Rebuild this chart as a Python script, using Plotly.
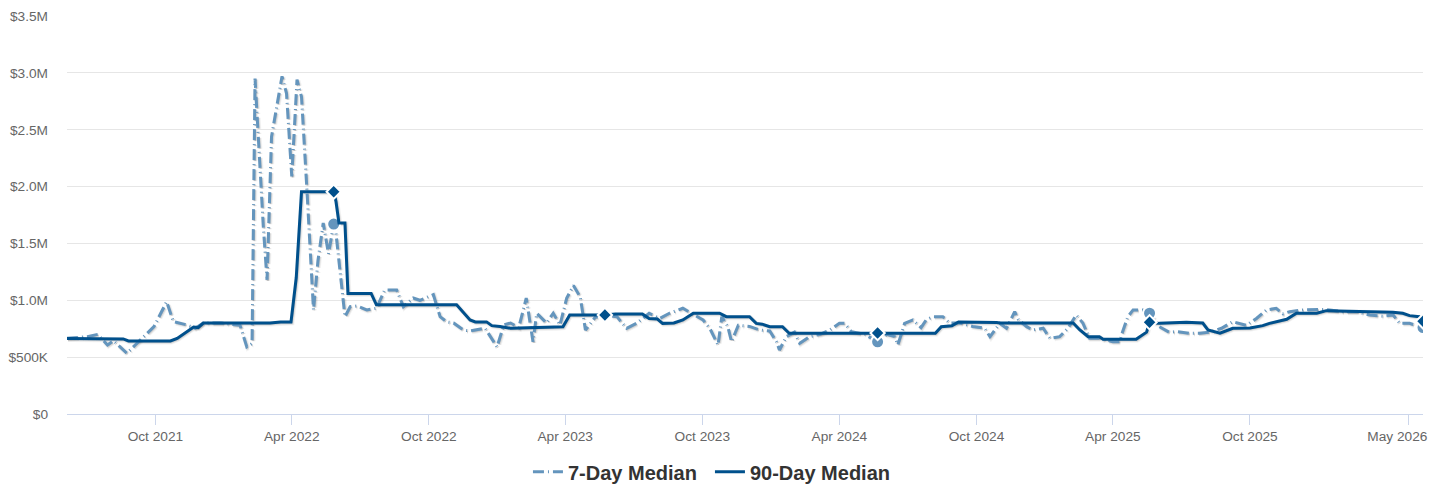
import plotly.graph_objects as go
import pandas as pd

# ---------------- data ----------------
SEVEN_DATES = [
    "2021-06-05", "2021-07-02", "2021-07-16", "2021-07-29", "2021-08-06", "2021-08-24",
    "2021-09-04", "2021-09-18", "2021-09-29", "2021-10-16", "2021-10-25", "2021-11-12",
    "2021-11-23", "2021-12-04", "2021-12-27", "2022-01-22", "2022-01-31", "2022-02-07",
    "2022-02-11", "2022-02-22", "2022-02-27", "2022-03-05", "2022-03-19", "2022-03-25",
    "2022-04-01", "2022-04-08", "2022-04-14", "2022-04-21", "2022-04-30", "2022-05-06",
    "2022-05-13", "2022-05-20", "2022-05-27", "2022-05-30", "2022-06-11", "2022-06-18",
    "2022-06-27", "2022-07-10", "2022-07-23", "2022-08-03", "2022-08-19", "2022-08-28",
    "2022-09-10", "2022-09-19", "2022-10-07", "2022-10-16", "2022-10-25", "2022-11-03",
    "2022-11-16", "2022-11-25", "2022-12-06", "2022-12-15", "2022-12-31", "2023-01-09",
    "2023-01-18", "2023-01-29", "2023-02-08", "2023-02-17", "2023-02-22", "2023-03-07",
    "2023-03-16", "2023-03-25", "2023-04-03", "2023-04-12", "2023-04-21", "2023-04-28",
    "2023-05-11", "2023-05-24", "2023-06-09", "2023-06-22", "2023-07-05", "2023-07-22",
    "2023-08-05", "2023-08-18", "2023-09-05", "2023-09-19", "2023-10-02", "2023-10-11",
    "2023-10-22", "2023-10-27", "2023-11-04", "2023-11-09", "2023-11-18", "2023-12-03",
    "2023-12-17", "2023-12-30", "2024-01-08", "2024-01-12", "2024-01-21", "2024-02-01",
    "2024-02-08", "2024-02-21", "2024-03-06", "2024-03-19", "2024-04-01", "2024-04-08",
    "2024-04-17", "2024-05-05", "2024-05-22", "2024-06-03", "2024-06-14", "2024-06-18",
    "2024-06-27", "2024-07-08", "2024-07-19", "2024-07-26", "2024-08-04", "2024-08-17",
    "2024-08-26", "2024-09-09", "2024-09-26", "2024-10-12", "2024-10-19", "2024-11-01",
    "2024-11-10", "2024-11-21", "2024-11-26", "2024-12-07", "2024-12-15", "2024-12-29",
    "2025-01-07", "2025-01-20", "2025-01-31", "2025-02-11", "2025-02-20", "2025-03-01",
    "2025-03-14", "2025-04-01", "2025-04-10", "2025-04-14", "2025-04-21", "2025-04-28",
    "2025-05-11", "2025-05-20", "2025-06-02", "2025-06-15", "2025-06-26", "2025-07-12",
    "2025-07-26", "2025-08-08", "2025-08-24", "2025-09-08", "2025-09-26", "2025-10-10",
    "2025-10-23", "2025-11-05", "2025-11-14", "2025-11-23", "2025-12-11", "2026-01-02",
    "2026-01-15", "2026-02-02", "2026-02-20", "2026-03-10", "2026-03-28", "2026-04-10",
    "2026-04-19", "2026-05-02", "2026-05-20",
]
SEVEN_VALUES = [
    665000, 680000, 700000, 607000, 645000, 534000,
    607000, 695000, 768000, 988000, 812000, 783000,
    754000, 800000, 800000, 780000, 590000, 620000,
    2950000, 1650000, 1180000, 2440000, 2970000, 2820000,
    2090000, 2940000, 2790000, 2000000, 915000, 1350000,
    1680000, 1410000, 1670000, 1590000, 856000, 944000,
    950000, 915000, 930000, 1090000, 1090000, 944000,
    1020000, 1000000, 1050000, 856000, 810000, 800000,
    739000, 730000, 740000, 754000, 590000, 783000,
    800000, 760000, 1020000, 636000, 886000, 800000,
    886000, 783000, 1020000, 1130000, 1030000, 739000,
    850000, 871000, 856000, 754000, 797000, 886000,
    840000, 886000, 930000, 880000, 827000, 754000,
    607000, 856000, 770000, 636000, 780000, 770000,
    739000, 730000, 636000, 563000, 680000, 720000,
    622000, 680000, 700000, 739000, 797000, 797000,
    724000, 700000, 635000, 700000, 680000, 607000,
    797000, 827000, 760000, 830000, 856000, 856000,
    800000, 800000, 770000, 754000, 680000, 797000,
    754000, 900000, 830000, 768000, 739000, 754000,
    666000, 680000, 754000, 871000, 800000, 666000,
    666000, 636000, 636000, 724000, 856000, 915000,
    915000, 886000, 768000, 720000, 724000, 710000,
    710000, 720000, 754000, 812000, 780000, 842000,
    915000, 929000, 880000, 900000, 915000, 920000,
    915000, 900000, 900000, 871000, 860000, 871000,
    797000, 797000, 760000,
]

NINETY_DATES = [
    "2021-06-05", "2021-08-19", "2021-08-26", "2021-10-21", "2021-10-30", "2021-11-13",
    "2021-11-21", "2021-11-27", "2021-12-04", "2022-03-03", "2022-03-17", "2022-03-31",
    "2022-04-07", "2022-04-14", "2022-05-16", "2022-05-27", "2022-05-30", "2022-06-03",
    "2022-06-11", "2022-06-15", "2022-07-16", "2022-07-23", "2022-11-07", "2022-11-25",
    "2022-12-02", "2022-12-17", "2022-12-24", "2023-01-04", "2023-01-18", "2023-03-20",
    "2023-03-29", "2023-04-07", "2023-05-24", "2023-06-07", "2023-07-13", "2023-07-22",
    "2023-08-02", "2023-08-09", "2023-08-24", "2023-09-05", "2023-09-19", "2023-10-24",
    "2023-11-02", "2023-12-03", "2023-12-12", "2023-12-20", "2023-12-30", "2024-01-16",
    "2024-01-25", "2024-05-09", "2024-05-22", "2024-06-05", "2024-08-07", "2024-08-15",
    "2024-08-29", "2024-09-07", "2024-10-28", "2024-11-01", "2025-02-07", "2025-02-16",
    "2025-02-27", "2025-03-14", "2025-03-19", "2025-05-02", "2025-05-16", "2025-05-20",
    "2025-06-02", "2025-07-08", "2025-07-30", "2025-08-06", "2025-08-22", "2025-09-08",
    "2025-10-01", "2025-10-18", "2025-10-27", "2025-11-19", "2025-12-02", "2025-12-29",
    "2026-01-11", "2026-03-28", "2026-04-10", "2026-04-23", "2026-05-02", "2026-05-15",
    "2026-05-20",
]
NINETY_VALUES = [
    665000, 660000, 642000, 642000, 665000, 724000,
    765000, 760000, 800000, 800000, 810000, 810000,
    1200000, 1955000, 1955000, 1955000, 1870000, 1680000,
    1680000, 1060000, 1060000, 960000, 960000, 827000,
    810000, 810000, 777000, 770000, 754000, 762000,
    768000, 871000, 871000, 880000, 880000, 840000,
    835000, 797000, 800000, 827000, 886000, 886000,
    856000, 856000, 797000, 790000, 768000, 768000,
    710000, 710000, 712000, 710000, 710000, 768000,
    775000, 810000, 805000, 800000, 800000, 739000,
    680000, 680000, 657000, 657000, 720000, 807000,
    797000, 807000, 800000, 739000, 710000, 754000,
    757000, 777000, 797000, 833000, 886000, 886000,
    909000, 900000, 895000, 886000, 865000, 856000,
    815000,
]

# highlighted points (annual markers)
MARKER_DATES = ["2022-05-27", "2023-05-24", "2024-05-22", "2025-05-20", "2026-05-20"]

Y_TICKS = [0, 500000, 1000000, 1500000, 2000000, 2500000, 3000000, 3500000]
Y_LABELS = ["$0", "$500K", "$1.0M", "$1.5M", "$2.0M", "$2.5M", "$3.0M", "$3.5M"]
X_TICKS = ["2021-10-01", "2022-04-01", "2022-10-01", "2023-04-01", "2023-10-01",
           "2024-04-01", "2024-10-01", "2025-04-01", "2025-10-01", "2026-05-01"]
X_LABELS = ["Oct 2021", "Apr 2022", "Oct 2022", "Apr 2023", "Oct 2023",
            "Apr 2024", "Oct 2024", "Apr 2025", "Oct 2025", "May 2026"]

SEVEN_NAME = "7-Day Median"
NINETY_NAME = "90-Day Median"

# ---------------- styles ----------------
C_SEVEN = "#6495bd"
C_NINETY = "#00508c"
FONT = "Liberation Sans, Arial, Helvetica, sans-serif"
DASH_SEVEN = "11px,4px,1px,4px"
PLOT_W, PLOT_H = 1356, 398
Y_MAX = 3500000

# last tick label nudged inside the plot edge (as in the reference)
x_labels_drawn = X_LABELS[:-1] + [X_LABELS[-1] + "\u00a0" * 6]

seven_lookup = dict(zip(SEVEN_DATES, SEVEN_VALUES))
ninety_lookup = dict(zip(NINETY_DATES, NINETY_VALUES))

x_start = pd.Timestamp(NINETY_DATES[0])
x_end = pd.Timestamp(NINETY_DATES[-1])
px_time = (x_end - x_start) / PLOT_W
px_val = Y_MAX / PLOT_H
fmt = "%Y-%m-%d %H:%M:%S"
shadow_xrange = [(x_start - px_time).strftime(fmt), (x_end - px_time).strftime(fmt)]
shadow_yrange = [px_val, Y_MAX + px_val]

fig = go.Figure()

# base subplot (axes, ticks and gridlines); holds no marks itself
fig.add_trace(go.Scatter(x=[], y=[], mode="lines", showlegend=False,
                         hoverinfo="skip"))

# soft drop shadows (offset 1px right / 1px down) drawn on a shifted overlay
for w, a in [(5, 0.05), (3, 0.10), (1, 0.15)]:
    fig.add_trace(go.Scatter(
        x=SEVEN_DATES, y=SEVEN_VALUES, mode="lines", xaxis="x2", yaxis="y2",
        line=dict(color=f"rgba(0,0,0,{a})", width=w, dash=DASH_SEVEN),
        showlegend=False, hoverinfo="skip",
    ))
    fig.add_trace(go.Scatter(
        x=NINETY_DATES, y=NINETY_VALUES, mode="lines", xaxis="x2", yaxis="y2",
        line=dict(color=f"rgba(0,0,0,{a})", width=w),
        showlegend=False, hoverinfo="skip",
    ))

fig.add_trace(go.Scatter(
    x=SEVEN_DATES, y=SEVEN_VALUES, name=SEVEN_NAME, mode="lines",
    xaxis="x3", yaxis="y3",
    line=dict(color=C_SEVEN, width=3, dash=DASH_SEVEN),
))
fig.add_trace(go.Scatter(
    x=MARKER_DATES, y=[seven_lookup[d] for d in MARKER_DATES], mode="markers",
    xaxis="x3", yaxis="y3",
    marker=dict(symbol="circle", size=13, color=C_SEVEN,
                line=dict(color="white", width=2)),
    showlegend=False, hoverinfo="skip",
))
fig.add_trace(go.Scatter(
    x=NINETY_DATES, y=NINETY_VALUES, name=NINETY_NAME, mode="lines",
    xaxis="x3", yaxis="y3",
    line=dict(color=C_NINETY, width=3),
))
fig.add_trace(go.Scatter(
    x=MARKER_DATES, y=[ninety_lookup[d] for d in MARKER_DATES], mode="markers",
    xaxis="x3", yaxis="y3",
    marker=dict(symbol="diamond", size=11, color=C_NINETY,
                line=dict(color="white", width=2)),
    showlegend=False, hoverinfo="skip",
))

hidden_axis = dict(visible=False, showgrid=False, zeroline=False, automargin=False,
                   fixedrange=True)

fig.update_layout(
    width=1452, height=498,
    margin=dict(l=67, r=29, t=16, b=84),
    paper_bgcolor="white", plot_bgcolor="white",
    font=dict(family=FONT, color="#666666", size=13),
    showlegend=True,
    legend=dict(
        orientation="h",
        xref="container", yref="container",
        x=0.3636, xanchor="left", y=0.0528, yanchor="middle",
        font=dict(family=FONT, size=20, color="#333333", weight="bold"),
        bgcolor="rgba(0,0,0,0)", itemwidth=30, traceorder="normal",
        entrywidth=137, entrywidthmode="pixels",
    ),
    xaxis=dict(
        type="date",
        range=[NINETY_DATES[0], NINETY_DATES[-1]],
        showgrid=False, zeroline=False, automargin=False,
        showline=True, linecolor="#ccd6eb", linewidth=1,
        ticks="outside", ticklen=10, tickcolor="#ccd6eb", tickwidth=1,
        tickvals=X_TICKS, ticktext=x_labels_drawn,
        tickfont=dict(size=13.7, color="#666666"),
        ticklabeloverflow="allow",
    ),
    yaxis=dict(
        range=[0, Y_MAX],
        showgrid=True, gridcolor="#e6e6e6", gridwidth=1,
        zeroline=False, showline=False, automargin=False,
        tickvals=Y_TICKS, ticktext=Y_LABELS,
        tickfont=dict(size=13.7, color="#666666"),
        ticklabelstandoff=18,
    ),
    xaxis2=dict(type="date", overlaying="x", anchor="y2", range=shadow_xrange,
                **hidden_axis),
    yaxis2=dict(overlaying="y", anchor="x2", range=shadow_yrange, **hidden_axis),
    xaxis3=dict(type="date", overlaying="x", anchor="y3",
                range=[NINETY_DATES[0], NINETY_DATES[-1]], **hidden_axis),
    yaxis3=dict(overlaying="y", anchor="x3", range=[0, Y_MAX], **hidden_axis),
)

fig.write_html(
    "out.html",
    config={"displayModeBar": False},
    post_script="document.body.style.margin='0';document.body.style.overflow='hidden';",
)
